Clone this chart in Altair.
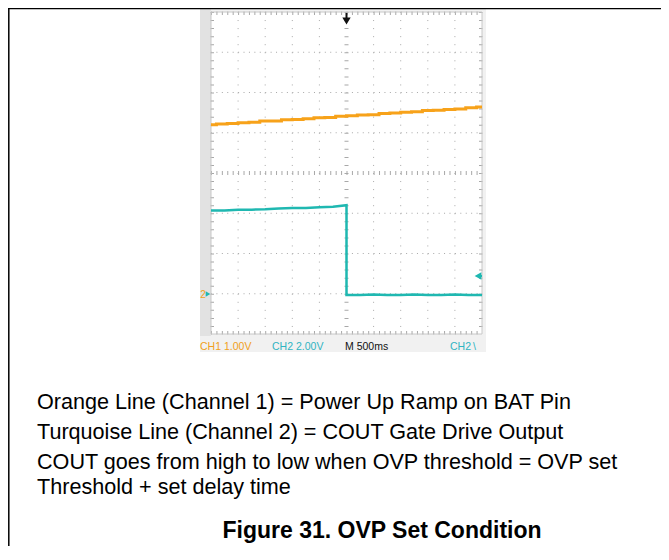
import altair as alt
import pandas as pd

# Oscilloscope: 500 ms/div horizontally, trigger at centre; vertical in divisions
x_domain = [-2500, 2500]
y_domain = [-4, 4]
grid_t = [-2500, -2000, -1500, -1000, -500, 500, 1000, 1500, 2000, 2500]
grid_div = [-4, -3, -2, -1, 1, 2, 3, 4]

ch1_t = [-2500, -2300, -2100, -1900, -1700, -1500, -1300, -1100, -900, -700, -500, -300, -100,
         100, 300, 500, 700, 900, 1100, 1300, 1500, 1700, 1900, 2100, 2300, 2500]
ch1_div = [1.20, 1.22, 1.23, 1.25, 1.26, 1.29, 1.29, 1.32, 1.33, 1.35, 1.37, 1.38, 1.41,
           1.42, 1.44, 1.45, 1.48, 1.49, 1.51, 1.52, 1.55, 1.56, 1.58, 1.59, 1.62, 1.64]

ch2_t = [-2500, -2250, -2000, -1750, -1500, -1250, -1000, -750, -500, -250, 0,
         0, 250, 500, 750, 1000, 1250, 1500, 1750, 2000, 2250, 2500]
ch2_div = [-0.93, -0.93, -0.91, -0.91, -0.90, -0.88, -0.87, -0.87, -0.85, -0.84, -0.80,
           -3.03, -3.03, -3.02, -3.03, -3.03, -3.02, -3.03, -3.03, -3.02, -3.03, -3.03]

status_labels = ["CH1", "1.00V", "CH2", "2.00V", "M 500ms", "CH2", "\\"]
status_colors = ["#F0A020", "#F0A020", "#2FB4C2", "#2FB4C2", "#111111", "#2FB4C2", "#2FB4C2"]

notes = [
    "Orange Line (Channel 1) = Power Up Ramp on BAT Pin",
    "Turquoise Line (Channel 2) = COUT Gate Drive Output",
    "COUT goes from high to low when OVP threshold = OVP set",
    "Threshold + set delay time",
]
caption = "Figure 31. OVP Set Condition"

W, H = 271, 322
xs = alt.Scale(domain=x_domain, nice=False, zero=False)
ys = alt.Scale(domain=y_domain, nice=False, zero=False)
dummy = alt.Data(values=[{"a": 1}])

ORANGE = "#F7A21A"
TEAL = "#1FB8B1"
GRID = "#a8a8a8"


def vtext(txt, x, y, **kw):
    return alt.Chart(dummy).mark_text(text=txt, **kw).encode(x=alt.value(x), y=alt.value(y))


def vrule(x, x2, y, y2, **kw):
    return alt.Chart(dummy).mark_rule(**kw).encode(
        x=alt.value(x), x2=alt.value(x2), y=alt.value(y), y2=alt.value(y2))


frame = alt.Chart(dummy).mark_rect(color="#f1f1f1").encode(
    x=alt.value(-11), x2=alt.value(275), y=alt.value(-4), y2=alt.value(340))
strip = alt.Chart(dummy).mark_rect(color="#e2e2e2").encode(
    x=alt.value(-11), x2=alt.value(0), y=alt.value(-4), y2=alt.value(324))
screen = alt.Chart(dummy).mark_rect(color="white").encode(
    x=alt.value(0), x2=alt.value(W), y=alt.value(0), y2=alt.value(H))

df_gx = pd.DataFrame({"t": grid_t})
df_gy = pd.DataFrame({"d": grid_div})
vgrid = alt.Chart(df_gx).mark_rule(color=GRID, strokeWidth=1, strokeDash=[1, 7.05]).encode(
    x=alt.X("t:Q", scale=xs, axis=None), y=alt.value(0), y2=alt.value(H))
hgrid = alt.Chart(df_gy).mark_rule(color=GRID, strokeWidth=1, strokeDash=[1, 4.42]).encode(
    y=alt.Y("d:Q", scale=ys, axis=None), x=alt.value(0), x2=alt.value(W))

center_h = alt.Chart(pd.DataFrame({"d": [0]})).mark_rule(
    color=GRID, strokeWidth=4, strokeDash=[1, 4.42]).encode(
    y=alt.Y("d:Q", scale=ys, axis=None), x=alt.value(0), x2=alt.value(W))
center_v = alt.Chart(pd.DataFrame({"t": [0]})).mark_rule(
    color=GRID, strokeWidth=4, strokeDash=[1, 7.05]).encode(
    x=alt.X("t:Q", scale=xs, axis=None), y=alt.value(0), y2=alt.value(H))

edge_ticks = [
    vrule(0, W, 1.5, 1.5, color=GRID, strokeWidth=3, strokeDash=[1, 4.42]),
    vrule(0, W, H - 1.5, H - 1.5, color=GRID, strokeWidth=3, strokeDash=[1, 4.42]),
    vrule(1.5, 1.5, 0, H, color=GRID, strokeWidth=3, strokeDash=[1, 7.05]),
    vrule(W - 1.5, W - 1.5, 0, H, color=GRID, strokeWidth=3, strokeDash=[1, 7.05]),
]
border = alt.Chart(dummy).mark_rect(fill=None, stroke="#c8c8c8", strokeWidth=1).encode(
    x=alt.value(0), x2=alt.value(W), y=alt.value(0), y2=alt.value(H))

df1 = pd.DataFrame({"t": ch1_t, "v": ch1_div, "i": range(len(ch1_t))})
df2 = pd.DataFrame({"t": ch2_t, "v": ch2_div, "i": range(len(ch2_t))})
ch1 = alt.Chart(df1).mark_line(color=ORANGE, strokeWidth=3, interpolate="step").encode(
    x=alt.X("t:Q", scale=xs, axis=None), y=alt.Y("v:Q", scale=ys, axis=None), order="i:O")
ch2 = alt.Chart(df2).mark_line(color=TEAL, strokeWidth=2.5).encode(
    x=alt.X("t:Q", scale=xs, axis=None), y=alt.Y("v:Q", scale=ys, axis=None), order="i:O")

# markers
trig = alt.Chart(pd.DataFrame({"t": [0]})).mark_point(
    shape="triangle-down", filled=True, color="#111", size=70, opacity=1).encode(
    x=alt.X("t:Q", scale=xs, axis=None), y=alt.value(9))
trig_stem = alt.Chart(pd.DataFrame({"t": [0]})).mark_rule(color="#111", strokeWidth=2).encode(
    x=alt.X("t:Q", scale=xs, axis=None), y=alt.value(1), y2=alt.value(8))
lvl = alt.Chart(dummy).mark_point(shape="triangle-left", filled=True, color=TEAL, size=60, opacity=1).encode(
    x=alt.value(267), y=alt.value(264))
lvl_stem = vrule(267, 271, 264, 264, color=TEAL, strokeWidth=2)
gnd_num = vtext("2", -8, 286, font="Liberation Sans, sans-serif",
                fontSize=10, color="#F0A020", align="center", baseline="alphabetic")
gnd_arrow = alt.Chart(dummy).mark_point(shape="triangle-right", filled=True, color=TEAL, size=28, opacity=1).encode(
    x=alt.value(-3), y=alt.value(282))

SF = "Liberation Sans, Arial, sans-serif"
status_x = [-11, 13, 61, 85, 134, 239, 262]
status = [vtext(lbl, sx, 338, font=SF, fontSize=10.5, color=c, align="left", baseline="alphabetic")
          for lbl, sx, c in zip(status_labels, status_x, status_colors)]

note_y = [396.5, 426.5, 456.5, 481.5]
note_layers = [vtext(n, -174, ny, font="Liberation Sans, Arial, sans-serif", fontSize=21.6,
                     color="#000", align="left", baseline="alphabetic")
               for n, ny in zip(notes, note_y)]
cap_layer = vtext(caption, 171, 526, font="Liberation Sans, Arial, sans-serif", fontSize=23,
                  fontWeight="bold", color="#000", align="center", baseline="alphabetic")

page_top = vrule(-203, 450, -3.5, -3.5, color="#000", strokeWidth=1.5)
page_left = vrule(-202.2, -202.2, -4, 534, color="#000", strokeWidth=1.5)

chart = alt.layer(
    frame, strip, screen, vgrid, hgrid, center_h, center_v, *edge_ticks, border,
    ch1, ch2, trig, trig_stem, lvl, lvl_stem, gnd_num, gnd_arrow,
    *status, *note_layers, cap_layer, page_top, page_left,
).properties(
    width=W, height=H,
    autosize=alt.AutoSizeParams(type="none"),
    padding={"left": 203, "top": 4, "right": 179, "bottom": 212},
    background="white",
).configure_view(stroke=None)

chart.save("out.html", embed_options={"renderer": "svg", "actions": False})
